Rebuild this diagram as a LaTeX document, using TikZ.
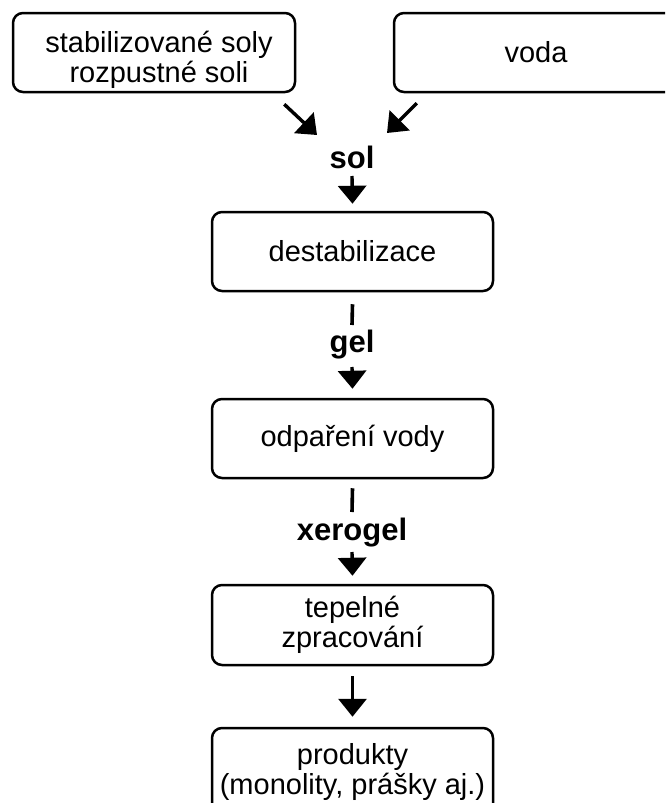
\documentclass[tikz,border=0pt]{standalone}
\usepackage{fontspec}
\setmainfont{Liberation Sans}
\usetikzlibrary{arrows.meta}
\begin{document}
\begin{tikzpicture}[x=1pt,y=-1pt,
  box/.style={draw, line width=2.5pt, rounded corners=10pt, minimum width=281pt, minimum height=79pt, align=center, font=\fontsize{29}{30}\selectfont, inner sep=0pt},
  txt/.style={align=center, font=\fontsize{29}{30}\selectfont, inner sep=0pt},
  lbl/.style={font=\fontsize{31}{32}\selectfont\bfseries, inner sep=0pt},
  arr/.style={line width=3.4pt, -{Triangle[width=28pt,length=18pt]}},
  bar/.style={line width=3.6pt}]
\clip (0,0) rectangle (665,803);
\fill[white] (0,0) rectangle (665,803);
% top boxes
\node[box, minimum width=282pt] (stab) at (154,52.5) {};
\node[txt] (stabt) at (159,60) {stabilizované soly\\rozpustné soli};
\node[box, minimum width=290pt] (voda) at (539,52.5) {};
\node[txt] (vodat) at (536,52.5) {voda};
% labels
\node[lbl] (sol) at (352,157) {sol};
\node[lbl] (gel) at (352,345) {gel};
\node[lbl] (xero) at (352,533) {xerogel};
% process boxes
\node[box] (destab) at (352.5,251.5) {destabilizace};
\node[box] (odp) at (352.5,438.5) {odpaření vody};
\node[box, minimum height=80pt] (tep) at (352.5,625) {tepelné\\zpracování};
\node[box, minimum height=88pt] (prod) at (352.5,772) {produkty\\(monolity, prášky aj.)};
% connectors
\draw[arr] ([xshift=-12pt,yshift=-11pt]stab.south east) -- ([xshift=-35pt,yshift=22pt]sol.center);
\draw[arr] ([xshift=24pt,yshift=-10pt]voda.south west) -- ([xshift=35pt,yshift=24pt]sol.center);
\draw[arr] ([yshift=-19pt]sol.center) -- ([yshift=7pt]destab.north);
\draw[bar] ([yshift=-12pt]destab.south) -- ([yshift=20pt]gel.center);
\draw[arr] ([yshift=-22pt]gel.center) -- ([yshift=9pt]odp.north);
\draw[bar] ([yshift=-9pt]odp.south) -- ([yshift=21pt]xero.center);
\draw[arr] ([yshift=-19pt]xero.center) -- ([yshift=8pt]tep.north);
\draw[arr] ([yshift=-10pt]tep.south) -- ([yshift=10pt]prod.north);
\end{tikzpicture}
\end{document}
